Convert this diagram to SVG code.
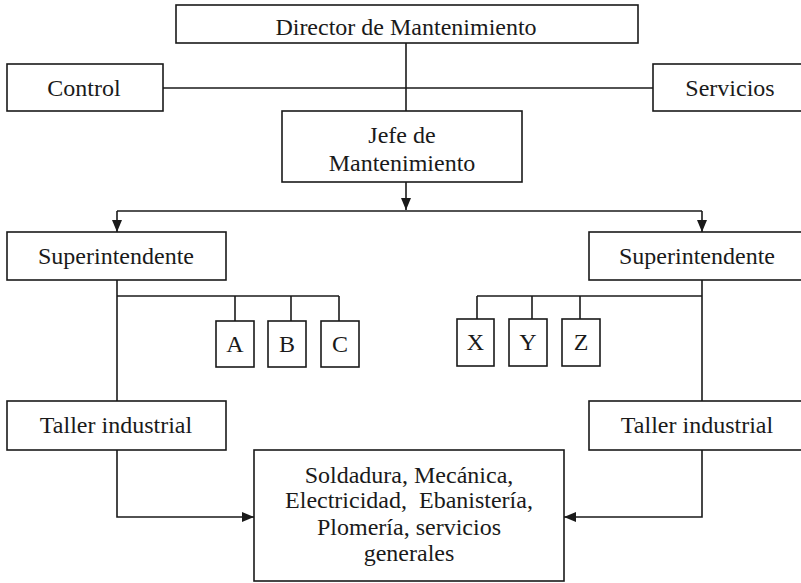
<svg xmlns="http://www.w3.org/2000/svg" width="801" height="583" viewBox="0 0 801 583">
  <defs>
    <marker id="arrow" viewBox="0 0 12 10" refX="12" refY="5" markerWidth="12" markerHeight="10" markerUnits="userSpaceOnUse" orient="auto">
      <path d="M0,0 L12,5 L0,10 Z" fill="#1a1a1a"/>
    </marker>
    <style>
      .box { fill: #ffffff; stroke: #1a1a1a; stroke-width: 1.6; }
      .line { fill: none; stroke: #1a1a1a; stroke-width: 1.6; }
      .label { font-family: "Liberation Serif", "Times New Roman", serif; font-size: 24px; fill: #1a1a1a; text-anchor: middle; dominant-baseline: central; white-space: pre; }
    </style>
  </defs>
  <rect width="801" height="583" fill="#ffffff"/>

  <!-- connectors -->
  <g id="connectors">
    <!-- director to jefe, staff line to control/servicios -->
    <path class="line" d="M406,43 V111"/>
    <path class="line" d="M163,88 H653"/>
    <!-- jefe to superintendents -->
    <path class="line" d="M406,182 V210" marker-end="url(#arrow)"/>
    <path class="line" d="M117,211 H702"/>
    <path class="line" d="M117,211 V232" marker-end="url(#arrow)"/>
    <path class="line" d="M702,211 V232" marker-end="url(#arrow)"/>
    <!-- left superintendent branch -->
    <path class="line" d="M117,280 V401"/>
    <path class="line" d="M117,296 H339"/>
    <path class="line" d="M235,296 V321"/>
    <path class="line" d="M291,296 V321"/>
    <path class="line" d="M339,296 V321"/>
    <!-- right superintendent branch -->
    <path class="line" d="M702,280 V401"/>
    <path class="line" d="M477,296 H702"/>
    <path class="line" d="M477,296 V319"/>
    <path class="line" d="M532,296 V319"/>
    <path class="line" d="M580,296 V319"/>
    <!-- workshops to trades -->
    <path class="line" d="M117,450 V517 H254" marker-end="url(#arrow)"/>
    <path class="line" d="M702,450 V517 H564" marker-end="url(#arrow)"/>
  </g>

  <g id="director">
    <rect class="box" x="176" y="5" width="462" height="38"/>
    <text class="label" x="406" y="27">Director de Mantenimiento</text>
  </g>
  <g id="control">
    <rect class="box" x="7" y="64" width="156" height="47"/>
    <text class="label" x="84" y="88">Control</text>
  </g>
  <g id="servicios">
    <rect class="box" x="653" y="64" width="160" height="47"/>
    <text class="label" x="730" y="88">Servicios</text>
  </g>
  <g id="jefe">
    <rect class="box" x="282" y="111" width="240" height="71"/>
    <text class="label" x="402" y="135">Jefe de</text>
    <text class="label" x="402" y="163">Mantenimiento</text>
  </g>
  <g id="superintendente-izq">
    <rect class="box" x="7" y="232" width="219" height="48"/>
    <text class="label" x="116" y="256">Superintendente</text>
  </g>
  <g id="superintendente-der">
    <rect class="box" x="589" y="232" width="224" height="48"/>
    <text class="label" x="697" y="256">Superintendente</text>
  </g>
  <g id="a">
    <rect class="box" x="216" y="321" width="38" height="46"/>
    <text class="label" x="235" y="344">A</text>
  </g>
  <g id="b">
    <rect class="box" x="268" y="321" width="38" height="46"/>
    <text class="label" x="287" y="344">B</text>
  </g>
  <g id="c">
    <rect class="box" x="321" y="321" width="38" height="46"/>
    <text class="label" x="340" y="344">C</text>
  </g>
  <g id="x">
    <rect class="box" x="457" y="319" width="37" height="47"/>
    <text class="label" x="475.5" y="342">X</text>
  </g>
  <g id="y">
    <rect class="box" x="509" y="319" width="38" height="47"/>
    <text class="label" x="528" y="342">Y</text>
  </g>
  <g id="z">
    <rect class="box" x="562" y="319" width="38" height="47"/>
    <text class="label" x="581" y="342">Z</text>
  </g>
  <g id="taller-izq">
    <rect class="box" x="7" y="401" width="219" height="49"/>
    <text class="label" x="116" y="425">Taller industrial</text>
  </g>
  <g id="taller-der">
    <rect class="box" x="589" y="401" width="224" height="49"/>
    <text class="label" x="697" y="425">Taller industrial</text>
  </g>
  <g id="oficios">
    <rect class="box" x="254" y="450" width="310" height="131"/>
    <text class="label" x="409" y="475">Soldadura, Mecánica,</text>
    <text class="label" x="409" y="500">Electricidad,  Ebanistería,</text>
    <text class="label" x="409" y="527">Plomería, servicios</text>
    <text class="label" x="409" y="553">generales</text>
  </g>
</svg>
